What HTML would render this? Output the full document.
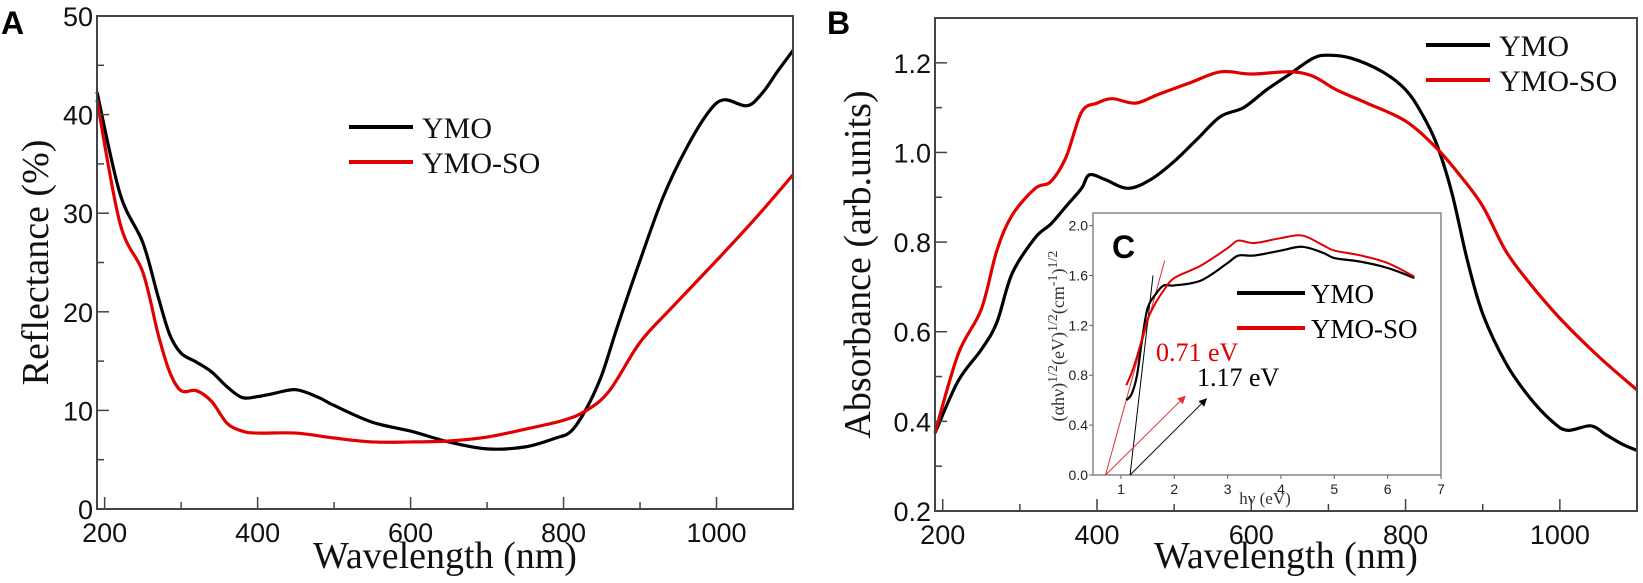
<!DOCTYPE html>
<html><head><meta charset="utf-8"><style>
html,body{margin:0;padding:0;background:#fff;}
svg{display:block;}
.tk{font-family:"Liberation Sans",Arial,sans-serif;font-size:27px;fill:#111;}
.ttl{font-family:"Liberation Serif",serif;font-size:38px;fill:#111;}
.lg{font-family:"Liberation Serif",serif;font-size:30px;fill:#111;}
.itk{font-family:"Liberation Sans",sans-serif;font-size:14px;fill:#222;}
</style></head><body>
<svg id="fig" width="1643" height="583" viewBox="0 0 1643 583"></svg>
<script>
// Panel A data
const aWave=[190,220,250,270,285,300,320,340,360,380,400,420,450,480,500,550,600,650,700,750,790,810,830,850,870,900,930,960,990,1010,1040,1060,1080,1100];
const aYMO=[42.3,32,27,21.5,17.7,15.8,14.9,13.9,12.4,11.3,11.4,11.7,12.1,11.3,10.5,8.8,7.9,6.8,6.1,6.3,7.2,7.9,10.2,13.6,18.4,25.2,31.6,36.5,40.3,41.5,40.9,42.2,44.4,46.5];
const aSOWave=[190,220,250,270,285,300,320,340,360,380,400,450,500,550,600,650,700,750,800,830,860,900,940,1000,1050,1100];
const aSO=[41.5,29,24,17.7,13.9,12,12,10.9,8.7,7.9,7.7,7.7,7.2,6.8,6.8,6.9,7.3,8.1,9.0,10,12,16.9,20.3,25.2,29.4,33.9];
const aXTicks=[200,400,600,800,1000];
const aYTicks=[0,10,20,30,40,50];
// Panel B data
const bWave=[190,220,250,270,290,320,340,360,380,390,410,440,470,500,530,560,590,620,650,680,700,730,770,800,820,840,860,880,900,930,960,990,1010,1040,1060,1080,1100];
const bYMO=[0.374,0.49,0.56,0.62,0.73,0.81,0.84,0.88,0.92,0.95,0.94,0.92,0.94,0.98,1.03,1.08,1.10,1.14,1.175,1.21,1.217,1.21,1.18,1.14,1.09,1.02,0.91,0.76,0.64,0.53,0.455,0.40,0.38,0.39,0.37,0.35,0.335];
const bSOWave=[190,220,250,270,290,320,340,360,380,400,420,450,480,520,560,600,650,680,710,750,800,840,870,900,930,960,1000,1050,1100];
const bSO=[0.374,0.55,0.65,0.78,0.86,0.92,0.935,0.99,1.09,1.11,1.12,1.11,1.13,1.155,1.18,1.175,1.18,1.17,1.14,1.11,1.07,1.01,0.95,0.88,0.78,0.71,0.63,0.545,0.47];
const bXTicks=[200,400,600,800,1000];
const bYTicks=[0.2,0.4,0.6,0.8,1.0,1.2];
// Inset C data
const cHv=[1.1,1.2,1.3,1.4,1.5,1.65,1.8,2.0,2.5,3.0,3.2,3.5,4.0,4.4,4.8,5.0,5.5,6.0,6.5];
const cYMO=[0.6,0.65,0.8,1.1,1.34,1.45,1.52,1.52,1.56,1.70,1.76,1.76,1.80,1.83,1.78,1.74,1.71,1.66,1.58];
const cSO=[0.72,0.82,0.95,1.1,1.25,1.38,1.48,1.58,1.68,1.82,1.88,1.86,1.90,1.92,1.84,1.80,1.76,1.70,1.59];
const cXTicks=[1,2,3,4,5,6,7];
const cYTicks=[0.0,0.4,0.8,1.2,1.6,2.0];
const gapRed=0.71, gapBlack=1.17;

const NS="http://www.w3.org/2000/svg";
const svg=document.getElementById('fig');
function el(tag,attrs,parent,text){const e=document.createElementNS(NS,tag);for(const k in attrs)e.setAttribute(k,attrs[k]);if(text!==undefined)e.textContent=text;(parent||svg).appendChild(e);return e;}
function lin(d0,d1,r0,r1){return v=>r0+(v-d0)*(r1-r0)/(d1-d0);}
function smooth(pts){let d=`M${pts[0][0]},${pts[0][1]}`;for(let i=0;i<pts.length-1;i++){const p0=pts[i-1]||pts[i],p1=pts[i],p2=pts[i+1],p3=pts[i+2]||p2;const c1=[p1[0]+(p2[0]-p0[0])/6,p1[1]+(p2[1]-p0[1])/6],c2=[p2[0]-(p3[0]-p1[0])/6,p2[1]-(p3[1]-p1[1])/6];d+=`C${c1[0]},${c1[1]} ${c2[0]},${c2[1]} ${p2[0]},${p2[1]}`;}return d;}

function panel(o){
  const g=el('g',{});
  
  
  const X=lin(190,1100,o.l,o.r),Y=lin(o.y0,o.y1,o.b,o.t);
  o.series.forEach(s=>{
    const p=el('path',{d:smooth(s.x.map((v,i)=>[X(v),Y(s.y[i])])),fill:'none',stroke:s.c,'stroke-width':3.2,'stroke-linejoin':'round'},g);
    
    
  });
  const f=el('rect',{x:o.l,y:o.t,width:o.r-o.l,height:o.b-o.t,fill:'none',stroke:'#444','stroke-width':2},g);
  
  
  for(let v=200;v<=1100;v+=100){const maj=o.xt.includes(v);el('line',{x1:X(v),x2:X(v),y1:o.b,y2:o.b-(maj?12:7),stroke:'#444','stroke-width':1.5},g);}
  o.xt.forEach(v=>{const t=el('text',{x:X(v),y:o.b+33,'text-anchor':'middle',class:'tk'},g,String(v));});
  o.yminor.forEach(v=>el('line',{x1:o.l,x2:o.l+7,y1:Y(v),y2:Y(v),stroke:'#444','stroke-width':1.5},g));
  o.yt.forEach(v=>{el('line',{x1:o.l,x2:o.l+12,y1:Y(v),y2:Y(v),stroke:'#444','stroke-width':1.5},g);const t=el('text',{x:o.l-4,y:Y(v)+10,'text-anchor':'end',class:'tk'},g,o.fmt(v));});
  const xt=el('text',{x:(o.l+o.r)/2,y:568,'text-anchor':'middle',class:'ttl'},g,'Wavelength (nm)');
  
  const yt=el('text',{x:o.ytx,y:(o.t+o.b)/2,'text-anchor':'middle',class:'ttl',transform:`rotate(-90 ${o.ytx} ${(o.t+o.b)/2})`},g,o.ytitle);
  
  const lt=el('text',{x:o.l-96+(o.letterX||0),y:34,style:'font:bold 32px "Liberation Sans",sans-serif'},g,o.letter);
  
  o.series.forEach((s,i)=>{
    const ly=o.legY+i*35;
    const ln=el('line',{x1:o.legX,x2:o.legX+64,y1:ly,y2:ly,stroke:s.c,'stroke-width':4},g);
    
    const tx=el('text',{x:o.legX+73,y:ly+11,class:'lg'},g,s.label);
    
  });
}
panel({name:'panel-a',l:97,r:793,t:16,b:509,y0:0,y1:50,xt:aXTicks,yt:aYTicks,yminor:[5,15,25,35,45],fmt:v=>String(v),
  series:[{x:aWave,y:aYMO,c:'#000',n:'ymo-reflectance-line',label:'YMO'},{x:aSOWave,y:aSO,c:'#e00000',n:'ymo-so-reflectance-line',label:'YMO-SO'}],
  ytitle:'Reflectance (%)',ytx:48,letter:'A',letterX:0,legX:349,legY:127});
panel({name:'panel-b',l:935,r:1637,t:18,b:511,y0:0.2,y1:1.3,xt:bXTicks,yt:bYTicks,yminor:[0.3,0.5,0.7,0.9,1.1],fmt:v=>v.toFixed(1),
  series:[{x:bWave,y:bYMO,c:'#000',n:'ymo-absorbance-line',label:'YMO'},{x:bSOWave,y:bSO,c:'#e00000',n:'ymo-so-absorbance-line',label:'YMO-SO'}],
  ytitle:'Absorbance (arb.units)',ytx:870,letter:'B',letterX:-12,legX:1426,legY:45});

(function(){
  const l=1093,r=1441,t=213,b=475;
  const g=el('g',{});
  
  
  const X=lin(1,7,1121,1441),Y=lin(0,2,475,225.6);
  el('rect',{x:l,y:t,width:r-l,height:b-t,fill:'#fff',stroke:'#666','stroke-width':1.2},g);
  cXTicks.forEach(v=>{el('line',{x1:X(v),x2:X(v),y1:b,y2:b+4,stroke:'#666'},g);el('text',{x:X(v),y:b+19,'text-anchor':'middle',class:'itk'},g,String(v));});
  cYTicks.forEach(v=>{el('line',{x1:l,x2:l-4,y1:Y(v),y2:Y(v),stroke:'#666'},g);el('text',{x:l-5,y:Y(v)+5,'text-anchor':'end',class:'itk'},g,v.toFixed(1));});
  const t1=el('line',{x1:X(gapRed),y1:Y(0),x2:X(1.82),y2:Y(1.72),stroke:'#e03030','stroke-width':1},g);
  
  const t2=el('line',{x1:X(gapBlack),y1:Y(0),x2:X(1.6),y2:Y(1.6),stroke:'#000','stroke-width':1},g);
  
  el('defs',{},g).innerHTML='<marker id="ar" markerWidth="8" markerHeight="8" refX="7" refY="4" orient="auto"><path d="M0,0L8,4L0,8z" fill="#e03030"/></marker><marker id="ab" markerWidth="8" markerHeight="8" refX="7" refY="4" orient="auto"><path d="M0,0L8,4L0,8z" fill="#000"/></marker>';
  el('line',{x1:X(gapRed),y1:Y(0),x2:X(2.2),y2:Y(0.63),stroke:'#e03030','stroke-width':1,'marker-end':'url(#ar)'},g);
  el('line',{x1:X(gapBlack),y1:Y(0),x2:X(2.6),y2:Y(0.61),stroke:'#000','stroke-width':1,'marker-end':'url(#ab)'},g);
  const s1=el('path',{d:smooth(cHv.map((v,i)=>[X(v),Y(cYMO[i])])),fill:'none',stroke:'#000','stroke-width':2.2},g);
  
  const s2=el('path',{d:smooth(cHv.map((v,i)=>[X(v),Y(cSO[i])])),fill:'none',stroke:'#e00000','stroke-width':2},g);
  
  const tl=el('text',{x:1112,y:258,style:'font:bold 32px "Liberation Sans",sans-serif'},g,'C');
  
  const a1=el('text',{x:1156,y:361,style:'font:26px "Liberation Serif",serif;fill:#e00000'},g,'0.71 eV');
  
  const a2=el('text',{x:1197,y:386,style:'font:26px "Liberation Serif",serif;fill:#000'},g,'1.17 eV');
  
  [['YMO','#000',293],['YMO-SO','#e00000',328]].forEach(([lb,c,y])=>{
    el('line',{x1:1237,x2:1305,y1:y,y2:y,stroke:c,'stroke-width':4},g);
    const tx=el('text',{x:1311,y:y+10,style:'font:27px "Liberation Serif",serif'},g,lb);
    
  });
  const xt=el('text',{x:1265,y:504,'text-anchor':'middle',style:'font:17px "Liberation Serif",serif;fill:#333'},g,'hν (eV)');
  
  const yt=el('text',{x:1064,y:336,'text-anchor':'middle',transform:'rotate(-90 1064 336)',style:'font:18px "Liberation Serif",serif;fill:#333'},g);
  yt.innerHTML='(αhν)<tspan dy="-7" font-size="14">1/2</tspan><tspan dy="7">(eV)</tspan><tspan dy="-7" font-size="14">1/2</tspan><tspan dy="7">(cm</tspan><tspan dy="-7" font-size="14">-1</tspan><tspan dy="7">)</tspan><tspan dy="-7" font-size="14">1/2</tspan>';
  
})();
</script>
</body></html>
